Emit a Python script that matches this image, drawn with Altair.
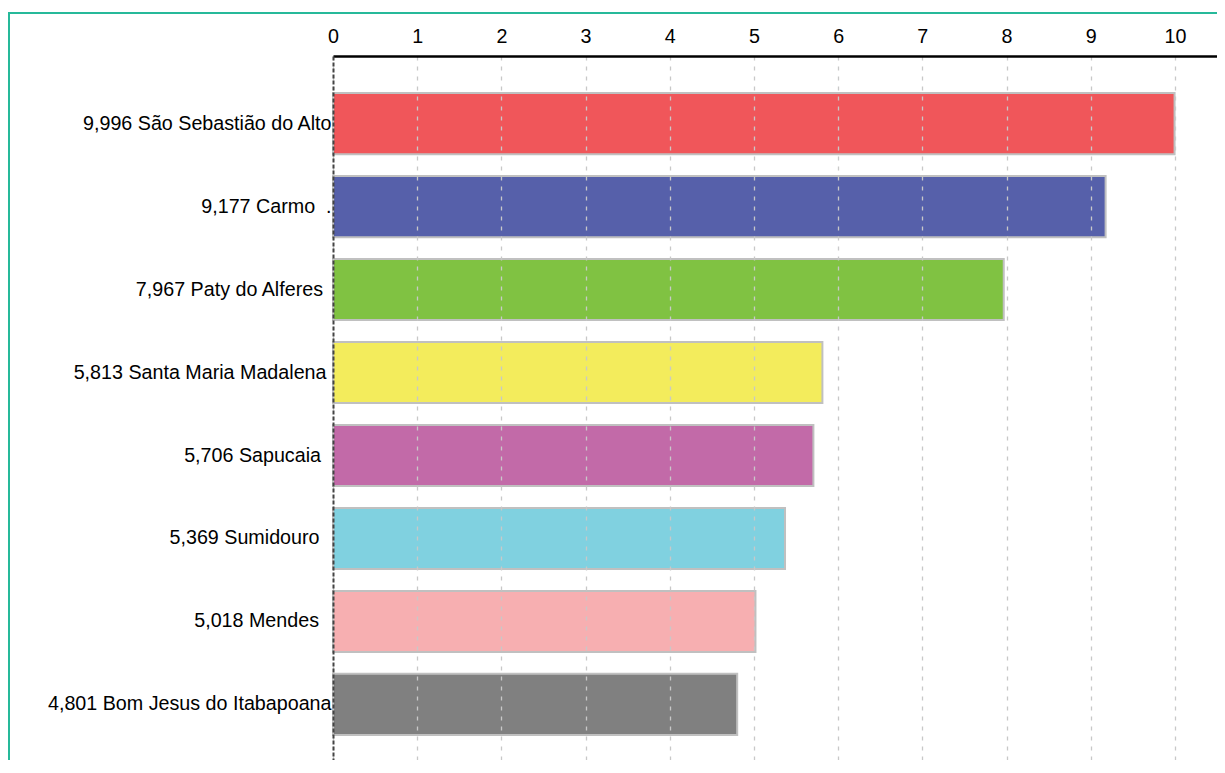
import altair as alt
import pandas as pd

names = ["São Sebastião do Alto", "Carmo", "Paty do Alferes", "Santa Maria Madalena",
         "Sapucaia", "Sumidouro", "Mendes", "Bom Jesus do Itabapoana"]
values = [9.996, 9.177, 7.967, 5.813, 5.706, 5.369, 5.018, 4.801]
value_text = ["9,996", "9,177", "7,967", "5,813", "5,706", "5,369", "5,018", "4,801"]
label_suffix = ["", "\u00a0\u00a0.", "", "", "", "", "", ""]
# extra gap between a label and the axis line (trailing blanks in the original labels)
label_gap = [2, 2, 10.5, 7, 12.5, 14, 14.5, 2]
colors = ["#f0565a", "#5660aa", "#80c242", "#f3ec5c", "#c26aa8", "#80d1e0", "#f7afb1", "#808080"]
x_ticks = list(range(0, 11))

labels = [f"{v} {n}{s}" for v, n, s in zip(value_text, names, label_suffix)]
df = pd.DataFrame({"label": labels, "value": values})

FONT = "Liberation Sans, Arial, sans-serif"

pad_conditions = [
    {"test": f"datum.value == '{lab}'", "value": g}
    for lab, g in zip(labels, label_gap) if g != 2
]
label_padding = {"condition": pad_conditions, "value": 2}

bars = alt.Chart(df).mark_bar(stroke="#c0c0c0", strokeWidth=2).encode(
    x=alt.X("value:Q",
            scale=alt.Scale(domain=[0, 10.5], nice=False, zero=True),
            axis=alt.Axis(orient="top", values=x_ticks, title=None, ticks=False,
                          labelPadding=10, labelFontSize=19.7, labelFont=FONT,
                          labelColor="#000000", labelFlush=False,
                          domainColor="#000000", domainWidth=2.5,
                          grid=True, gridColor="#c8c8c8", gridDash=[4, 6],
                          gridWidth=1.3, zindex=1)),
    y=alt.Y("label:N", sort=labels,
            scale=alt.Scale(paddingInner=0.263, paddingOuter=0.3735, align=0.597),
            axis=alt.Axis(title=None, ticks=False, labelPadding=label_padding,
                          labelFontSize=19.7, labelFont=FONT, labelColor="#000000",
                          labelLimit=400, grid=False,
                          domainColor="#444444", domainDash=[4, 2], domainWidth=2,
                          zindex=1)),
    color=alt.Color("label:N", scale=alt.Scale(domain=labels, range=colors), legend=None),
)

border = alt.Chart(alt.Data(values=[{"a": 1}])).mark_rect(
    fill="transparent", stroke="#26b99a", strokeWidth=2
).encode(
    x=alt.value(-324), x2=alt.value(950), y=alt.value(-43), y2=alt.value(760)
)

chart = alt.layer(bars, border).properties(
    width=884, height=704,
    autosize=alt.AutoSizeParams(type="none"),
    padding={"left": 325, "top": 48, "right": 0, "bottom": 0},
    background="#ffffff",
).configure_view(strokeWidth=0)

chart.save("out.html", embed_options={"renderer": "svg", "actions": False})
